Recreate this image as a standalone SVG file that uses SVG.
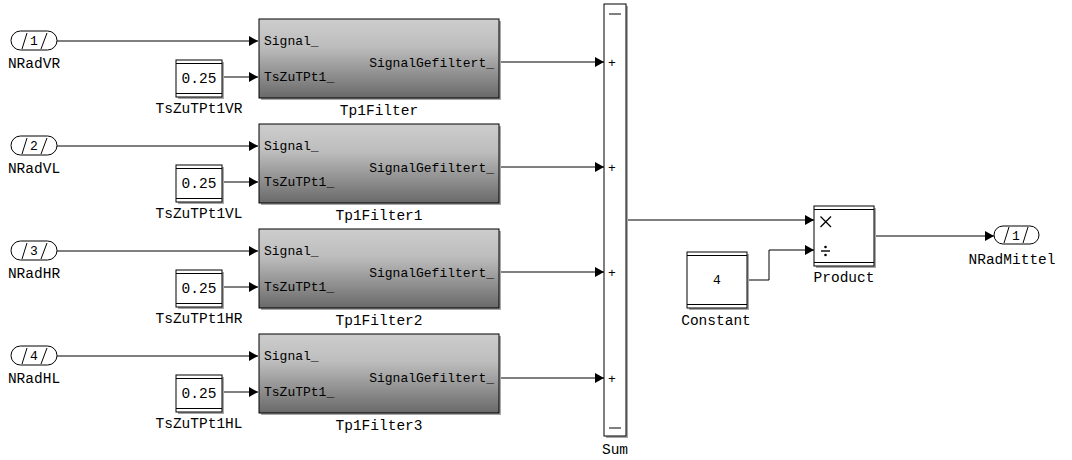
<svg xmlns="http://www.w3.org/2000/svg" width="1072" height="460" viewBox="0 0 1072 460">
<defs>
<linearGradient id="fg" x1="0" y1="0" x2="0" y2="1">
<stop offset="0" stop-color="#cdcdcd"/>
<stop offset="0.35" stop-color="#bdbdbd"/>
<stop offset="1" stop-color="#696969"/>
</linearGradient>
<marker id="ah" markerWidth="9" markerHeight="10" refX="9" refY="5" orient="auto" markerUnits="userSpaceOnUse">
<path d="M0,0 L9,5 L0,10 Z" fill="#000"/>
</marker>
</defs>
<style>
text{font-family:"Liberation Mono","Courier New",monospace;fill:#000}
.lbl{font-size:14.5px;text-anchor:middle}
.in{font-size:13px}
.blk{fill:#fff;stroke:#000;stroke-width:1}
.sh{fill:#a8a8a8}
.ln{stroke:#000;stroke-width:1;fill:none}
.w{stroke:#000;stroke-width:1;fill:none;marker-end:url(#ah)}
</style>
<rect width="1072" height="460" fill="#fff"/>

<g id="connectors">
<path class="w" d="M57,41 H258"/>
<path class="w" d="M222,77 H258"/>
<path class="w" d="M499,62 H604"/>
<path class="w" d="M57,146 H258"/>
<path class="w" d="M222,182 H258"/>
<path class="w" d="M499,167 H604"/>
<path class="w" d="M57,251 H258"/>
<path class="w" d="M222,287 H258"/>
<path class="w" d="M499,272 H604"/>
<path class="w" d="M57,356 H258"/>
<path class="w" d="M222,392 H258"/>
<path class="w" d="M499,378 H604"/>
<path class="w" d="M626,220 H814"/>
<path class="w" d="M747,280 H769 V250 H814"/>
<path class="w" d="M874,236 H994"/>
</g>

<g id="inport1">
<rect class="blk" x="11" y="31" width="46" height="19" rx="9.5"/>
<path class="ln" d="M22,49 L27,33 M41,49 L47,33"/>
<text class="in" x="34" y="45" text-anchor="middle">1</text>
<text class="lbl" x="34" y="68">NRadVR</text>
</g>
<g id="inport2">
<rect class="blk" x="11" y="136" width="46" height="19" rx="9.5"/>
<path class="ln" d="M22,154 L27,138 M41,154 L47,138"/>
<text class="in" x="34" y="150" text-anchor="middle">2</text>
<text class="lbl" x="34" y="173">NRadVL</text>
</g>
<g id="inport3">
<rect class="blk" x="11" y="241" width="46" height="19" rx="9.5"/>
<path class="ln" d="M22,259 L27,243 M41,259 L47,243"/>
<text class="in" x="34" y="255" text-anchor="middle">3</text>
<text class="lbl" x="34" y="278">NRadHR</text>
</g>
<g id="inport4">
<rect class="blk" x="11" y="346" width="46" height="19" rx="9.5"/>
<path class="ln" d="M22,364 L27,348 M41,364 L47,348"/>
<text class="in" x="34" y="360" text-anchor="middle">4</text>
<text class="lbl" x="34" y="383">NRadHL</text>
</g>

<g id="TsZuTPt1VR">
<rect class="sh" x="178" y="62" width="46" height="37"/>
<rect class="blk" x="176" y="60" width="46" height="37"/>
<path class="ln" d="M176,63.5 H222 M176,93.5 H222"/>
<text x="199" y="83" font-size="14.5" text-anchor="middle">0.25</text>
<text class="lbl" x="199" y="113">TsZuTPt1VR</text>
</g>
<g id="TsZuTPt1VL">
<rect class="sh" x="178" y="167" width="46" height="37"/>
<rect class="blk" x="176" y="165" width="46" height="37"/>
<path class="ln" d="M176,168.5 H222 M176,198.5 H222"/>
<text x="199" y="188" font-size="14.5" text-anchor="middle">0.25</text>
<text class="lbl" x="199" y="218">TsZuTPt1VL</text>
</g>
<g id="TsZuTPt1HR">
<rect class="sh" x="178" y="272" width="46" height="37"/>
<rect class="blk" x="176" y="270" width="46" height="37"/>
<path class="ln" d="M176,273.5 H222 M176,303.5 H222"/>
<text x="199" y="293" font-size="14.5" text-anchor="middle">0.25</text>
<text class="lbl" x="199" y="323">TsZuTPt1HR</text>
</g>
<g id="TsZuTPt1HL">
<rect class="sh" x="178" y="377" width="46" height="37"/>
<rect class="blk" x="176" y="375" width="46" height="37"/>
<path class="ln" d="M176,378.5 H222 M176,408.5 H222"/>
<text x="199" y="398" font-size="14.5" text-anchor="middle">0.25</text>
<text class="lbl" x="199" y="428">TsZuTPt1HL</text>
</g>

<g id="Tp1Filter">
<rect class="sh" x="261" y="21" width="240" height="79"/>
<rect x="259" y="19" width="240" height="79" fill="url(#fg)" stroke="#000"/>
<text class="in" x="264" y="45">Signal_</text>
<text class="in" x="264" y="81">TsZuTPt1_</text>
<text class="in" x="494" y="67" text-anchor="end">SignalGefiltert_</text>
<text class="lbl" x="379" y="115">Tp1Filter</text>
</g>
<g id="Tp1Filter1">
<rect class="sh" x="261" y="126" width="240" height="79"/>
<rect x="259" y="124" width="240" height="79" fill="url(#fg)" stroke="#000"/>
<text class="in" x="264" y="150">Signal_</text>
<text class="in" x="264" y="186">TsZuTPt1_</text>
<text class="in" x="494" y="172" text-anchor="end">SignalGefiltert_</text>
<text class="lbl" x="379" y="220">Tp1Filter1</text>
</g>
<g id="Tp1Filter2">
<rect class="sh" x="261" y="231" width="240" height="79"/>
<rect x="259" y="229" width="240" height="79" fill="url(#fg)" stroke="#000"/>
<text class="in" x="264" y="255">Signal_</text>
<text class="in" x="264" y="291">TsZuTPt1_</text>
<text class="in" x="494" y="277" text-anchor="end">SignalGefiltert_</text>
<text class="lbl" x="379" y="325">Tp1Filter2</text>
</g>
<g id="Tp1Filter3">
<rect class="sh" x="261" y="336" width="240" height="79"/>
<rect x="259" y="334" width="240" height="79" fill="url(#fg)" stroke="#000"/>
<text class="in" x="264" y="360">Signal_</text>
<text class="in" x="264" y="396">TsZuTPt1_</text>
<text class="in" x="494" y="382" text-anchor="end">SignalGefiltert_</text>
<text class="lbl" x="379" y="430">Tp1Filter3</text>
</g>

<g id="Sum">
<rect class="sh" x="606" y="6" width="22" height="432"/>
<rect class="blk" x="604" y="4" width="22" height="432"/>
<path class="ln" d="M609,14 H621 M609,428 H621"/>
<text class="in" x="612" y="67" text-anchor="middle">+</text>
<text class="in" x="612" y="172" text-anchor="middle">+</text>
<text class="in" x="612" y="277" text-anchor="middle">+</text>
<text class="in" x="612" y="383" text-anchor="middle">+</text>
<text class="lbl" x="615" y="454">Sum</text>
</g>

<g id="Constant">
<rect class="sh" x="689" y="254" width="60" height="56"/>
<rect class="blk" x="687" y="252" width="60" height="56"/>
<path class="ln" d="M687,255.5 H747 M687,304.5 H747"/>
<text x="717" y="284" font-size="13" text-anchor="middle">4</text>
<text class="lbl" x="716" y="325">Constant</text>
</g>

<g id="Product">
<rect class="sh" x="816" y="208" width="60" height="60"/>
<rect class="blk" x="814" y="206" width="60" height="60"/>
<path class="ln" d="M814,209.5 H874 M814,262.5 H874"/>
<path d="M820.5,216.5 L831,227 M831,216.5 L820.5,227" stroke="#000" stroke-width="1.3" fill="none"/>
<path d="M821,251 H830" stroke="#000" stroke-width="1.4" fill="none"/>
<circle cx="825.5" cy="247" r="1.3" fill="#000"/>
<circle cx="825.5" cy="255" r="1.3" fill="#000"/>
<text class="lbl" x="844" y="282">Product</text>
</g>

<g id="NRadMittel">
<rect class="blk" x="994" y="226" width="45" height="18" rx="9"/>
<path class="ln" d="M1004,243 L1009,227 M1023,243 L1028,227"/>
<text class="in" x="1016" y="240" text-anchor="middle">1</text>
<text class="lbl" x="1012" y="264">NRadMittel</text>
</g>
</svg>
